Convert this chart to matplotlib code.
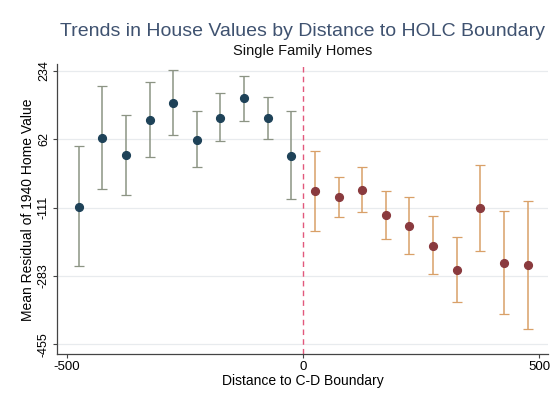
import numpy as np
import matplotlib.pyplot as plt

plt.rcParams['font.family'] = ['Liberation Sans', 'DejaVu Sans']

# distance bins (midpoints) and mean residuals with confidence bounds
dist_left = [-475, -425, -375, -325, -275, -225, -175, -125, -75, -25]
mean_left = [-108, 64, 22, 111, 153, 60, 116, 165, 115, 20]
lo_left = [-258, -63, -79, 16, 71, -9, 58, 108, 62, -89]
hi_left = [45, 195, 123, 207, 237, 133, 178, 222, 169, 133]

dist_right = [25, 75, 125, 175, 225, 275, 325, 375, 425, 475]
mean_right = [-70, -85, -66, -129, -157, -207, -268, -112, -251, -255]
lo_right = [-169, -135, -123, -190, -228, -279, -349, -220, -379, -417]
hi_right = [31, -34, -9, -68, -85, -132, -186, -3, -119, -94]

yticks = [234, 62, -111, -283, -455]
xticks = [-500, 0, 500]

fig = plt.figure(figsize=(5.58, 4.08), dpi=100)
ax = fig.add_axes([0.102, 0.132, 0.88, 0.71])

for y in yticks:
    ax.axhline(y, color='#e8ebee', lw=0.9, zorder=0)

def draw(x, m, lo, hi, bar_c, dot_c):
    x = np.array(x)
    m = np.array(m)
    err = [m - np.array(lo), np.array(hi) - m]
    ax.errorbar(x, m, yerr=err, fmt='none', ecolor=bar_c, elinewidth=1.1,
                capsize=3.5, capthick=0.9, zorder=2)
    ax.plot(x, m, 'o', color=dot_c, ms=5.6, zorder=3)

draw(dist_left, mean_left, lo_left, hi_left, '#8c9484', '#1e4258')
draw(dist_right, mean_right, lo_right, hi_right, '#d9a068', '#8a3a3e')

ax.axvline(0, color='#e2587c', ls=(0, (4, 3)), lw=1.0, zorder=1)

ax.set_xlim(-521, 518)
ax.set_ylim(-480, 250)
ax.set_yticks(yticks)
ax.set_yticklabels([str(v) for v in yticks], rotation=90, va='center', fontsize=9)
ax.set_xticks(xticks)
ax.set_xticklabels([str(v) for v in xticks], fontsize=9.5)
ax.tick_params(axis='both', length=3, width=0.8, color='#444444', pad=2)

for s in ['top', 'right']:
    ax.spines[s].set_visible(False)
for s in ['left', 'bottom']:
    ax.spines[s].set_color('#444444')
    ax.spines[s].set_linewidth(0.9)

ax.set_xlabel('Distance to C-D Boundary', fontsize=10, labelpad=1)
ax.set_ylabel('Mean Residual of 1940 Home Value', fontsize=10, labelpad=2)

fig.text(0.543, 0.922, 'Trends in House Values by Distance to HOLC Boundary',
         ha='center', va='center', fontsize=14, color='#3f5270')
fig.text(0.543, 0.874, 'Single Family Homes', ha='center', va='center',
         fontsize=10.5, color='#111111')

fig.savefig('out.png', dpi=100)
